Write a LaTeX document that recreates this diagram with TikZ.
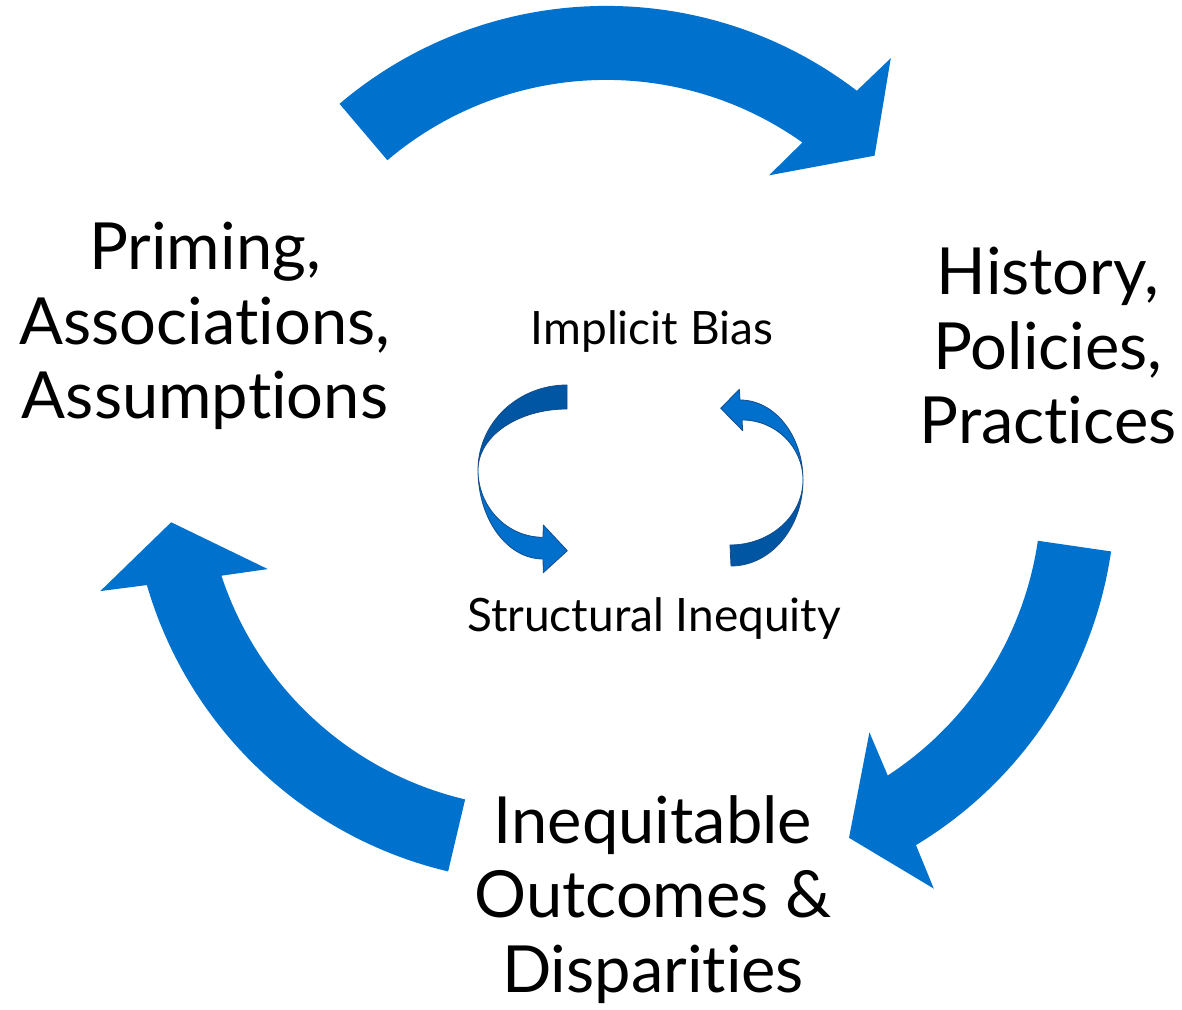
\documentclass[tikz,border=0pt]{standalone}
\usepackage{fontspec}
\setmainfont{Lato}[Ligatures={NoCommon}]
\usetikzlibrary{calc}

\definecolor{cycblue}{RGB}{0,114,206}
\definecolor{faceback}{RGB}{0,86,162}
\definecolor{facefront}{RGB}{0,112,204}
\definecolor{ribbonedge}{RGB}{20,76,140}

% Thick circular arrow: #1 centre, #2 tip angle, #3 tail angle (runs clockwise)
\newcommand{\cyclearrow}[3]{%
  \fill[cycblue] ($(#1)+(#3:412.5pt)$)
    arc[start angle=#3, end angle=#2+8.2, radius=412.5pt]
    -- ($(#1)+(#2+7.3:459pt)$)
    -- ($(#1)+(#2:375.5pt)$)
    -- ($(#1)+(#2+11.8:292.5pt)$)
    -- ($(#1)+(#2+10.2:338.5pt)$)
    arc[start angle=#2+10.2, end angle=#3, radius=338.5pt]
    -- cycle;}

\begin{document}
\begin{tikzpicture}[x=1pt,y=1pt,
  bigtext/.style={font=\fontsize{65}{74.5}\selectfont, align=center, inner sep=0pt},
  smalltext/.style={font=\fontsize{46}{52}\selectfont, inner sep=0pt},
  backface/.style={fill=faceback, draw=ribbonedge, line width=0.8pt, line join=round},
  frontface/.style={fill=facefront, draw=ribbonedge, line width=0.8pt, line join=round}]
\useasboundingbox (0,0) rectangle (1182,1009);

% centres of the three outer arrows
\coordinate (c1) at (606.3,590.6);
\coordinate (c2) at (702.9,517.1);
\coordinate (c3) at (543.0,539.0);

\cyclearrow{c1}{44.4}{130.3}
\cyclearrow{c2}{-67.1}{-8.3}
\cyclearrow{c3}{188.0}{256.7}

% left inner ribbon arrow: back face on top, front face with head below
\path[backface] (567,624)
  arc[start angle=90, end angle=180, x radius=89pt, y radius=85pt]
  arc[start angle=180, end angle=90, x radius=89pt, y radius=61pt]
  -- cycle;
\path[frontface] (478,539)
  arc[start angle=180, end angle=270, x radius=65pt, y radius=89pt]
  -- (543.3,436.3) -- (567.3,458.3) -- (543.3,484) -- (543,471.7)
  arc[start angle=270, end angle=180, x radius=65pt, y radius=67.3pt]
  -- cycle;

% right inner ribbon arrow: back face below, front face with head on top
\path[backface] (803,529)
  arc[start angle=0, end angle=-90, x radius=72pt, y radius=86pt]
  -- (730,464)
  arc[start angle=-90, end angle=0, x radius=73pt, y radius=65pt]
  -- cycle;
\path[frontface] (740,609)
  arc[start angle=90, end angle=0, x radius=63pt, y radius=80pt]
  arc[start angle=0, end angle=90, x radius=61pt, y radius=60pt]
  -- (742.7,578.3) -- (720.7,600.7) -- (739.3,619.7)
  -- cycle;

% labels (anchor=base sits on the last line)
\node[bigtext, anchor=base] (prime) at (205,590)
  {Priming,\\Associations,\\Assumptions};
\node[bigtext, anchor=base] (hist) at (1048,565)
  {History,\\Policies,\\Practices};
\node[bigtext, anchor=base] (outc) at (653,17)
  {Inequitable\\Outcomes~\&\\Disparities};
\node[smalltext, anchor=base] (bias) at (652,664) {Implicit Bias};
\node[smalltext, anchor=base] (struct) at (654,377) {Structural Inequity};
\end{tikzpicture}
\end{document}
